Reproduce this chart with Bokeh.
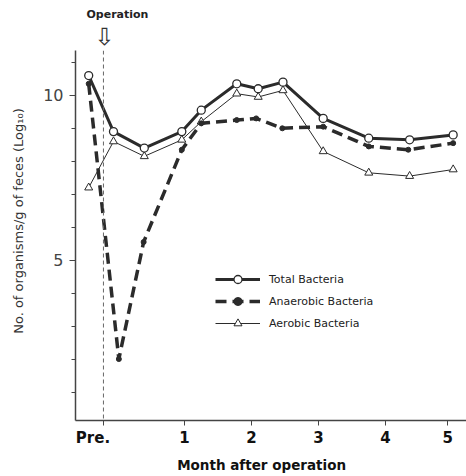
from bokeh.plotting import figure
from bokeh.models import Range1d, FixedTicker, Span, Title, Legend, LegendItem
from bokeh.embed import file_html
from bokeh.resources import INLINE

# ---- data ----
x_total = [-0.43, -0.06, 0.40, 0.96, 1.25, 1.78, 2.10, 2.47, 3.07, 3.75, 4.36, 5.01]
total_bacteria = [10.6, 8.9, 8.4, 8.9, 9.55, 10.35, 10.2, 10.4, 9.3, 8.7, 8.65, 8.8]
aerobic_bacteria = [7.2, 8.6, 8.15, 8.65, 9.2, 10.05, 9.95, 10.15, 8.3, 7.65, 7.55, 7.75]
x_anaerobic = [-0.43, 0.02, 0.39, 0.96, 1.25, 1.78, 2.07, 2.46, 3.07, 3.75, 4.34, 5.01]
anaerobic_bacteria = [10.35, 2.0, 5.55, 8.35, 9.15, 9.25, 9.3, 9.0, 9.05, 8.45, 8.35, 8.55]

operation_x = -0.21
x_tick_values = [operation_x, 1, 2, 3, 4, 4.93]
x_tick_labels = ["Pre.\u00a0\u00a0\u00a0\u00a0", "1", "2", "3", "4", "5"]
y_tick_values = [5, 10]
y_minor_ticks = [1, 2, 3, 4, 5, 6, 7, 8, 9, 10, 11]

INK = "#2b2b2b"
FONT = "DejaVu Sans"

p = figure(width=466, height=476, output_backend="svg", toolbar_location=None,
           x_range=Range1d(-0.627, 5.209), y_range=Range1d(0.136, 11.36),
           min_border_left=75, min_border_right=0, min_border_top=50, min_border_bottom=56)
p.outline_line_color = None
p.xgrid.visible = False
p.ygrid.visible = False
p.background_fill_color = "white"

# "Operation" text on top, arrow between it and the frame
p.title.text = "Operation"
p.title.text_font = FONT
p.title.text_font_size = "11px"
p.title.text_font_style = "bold"
p.title.text_color = "#222222"
p.title.align = "left"
p.title.offset = 11
p.title.standoff = 0
p.add_layout(Title(text="\u21e9", text_font=FONT, text_font_style="normal",
                   text_font_size="24px", text_color="#333333", align="left",
                   offset=19, standoff=0), "above")

# axes
p.xaxis.ticker = FixedTicker(ticks=x_tick_values)
p.xaxis.major_label_overrides = {v: l for v, l in zip(x_tick_values, x_tick_labels)}
p.yaxis.ticker = FixedTicker(ticks=y_tick_values, minor_ticks=y_minor_ticks)
for ax in (p.xaxis[0], p.yaxis[0]):
    ax.axis_line_color = "#444444"
    ax.axis_line_width = 1.5
    ax.major_tick_line_color = "#444444"
    ax.minor_tick_line_color = "#444444"
    ax.major_tick_in = 0
    ax.minor_tick_in = 0
p.xaxis.major_tick_out = 5
p.xaxis.minor_tick_out = 0
p.yaxis.major_tick_out = 6
p.yaxis.minor_tick_out = 4

p.xaxis.major_label_text_font = FONT
p.xaxis.major_label_text_font_style = "bold"
p.xaxis.major_label_text_font_size = "15px"
p.xaxis.major_label_text_color = "#111111"
p.xaxis.major_label_standoff = 3
p.xaxis.axis_label = "Month after operation\u00a0\u00a0\u00a0\u00a0"
p.xaxis.axis_label_text_font = FONT
p.xaxis.axis_label_text_font_style = "bold"
p.xaxis.axis_label_text_font_size = "13.5px"
p.xaxis.axis_label_text_color = "#111111"
p.xaxis.axis_label_standoff = 7

p.yaxis.major_label_text_font = FONT
p.yaxis.major_label_text_font_size = "16px"
p.yaxis.major_label_text_color = "#444444"
p.yaxis.major_label_standoff = 6
p.yaxis.axis_label = "\u00a0" * 7 + "No. of organisms/g of feces (Log\u2081\u2080)"
p.yaxis.axis_label_text_font = FONT
p.yaxis.axis_label_text_font_style = "normal"
p.yaxis.axis_label_text_font_size = "13px"
p.yaxis.axis_label_text_color = "#333333"
p.yaxis.axis_label_standoff = 14

# operation line
p.add_layout(Span(location=operation_x, dimension="height", line_color="#666666",
                  line_width=1, line_dash="4 3"))

# series
la = p.line(x_total, aerobic_bacteria, line_color=INK, line_width=1)
sa = p.scatter(x_total, aerobic_bacteria, marker="triangle", size=8,
               fill_color="white", line_color=INK, line_width=1)
ln = p.line(x_anaerobic, anaerobic_bacteria, line_color=INK, line_width=3.5, line_dash="11 6")
sn = p.scatter(x_anaerobic, anaerobic_bacteria, marker="circle", size=5,
               fill_color=INK, line_color=INK)
lt = p.line(x_total, total_bacteria, line_color=INK, line_width=3)
st = p.scatter(x_total, total_bacteria, marker="circle", size=8,
               fill_color="white", line_color=INK, line_width=1.3)

legend = Legend(items=[
    LegendItem(label="Total Bacteria", renderers=[lt, st]),
    LegendItem(label="Anaerobic Bacteria", renderers=[ln, sn]),
    LegendItem(label="Aerobic Bacteria", renderers=[la, sa]),
], location=(140, 87), orientation="vertical", glyph_width=45, glyph_height=20,
    label_height=20, spacing=2, padding=0, margin=0, border_line_color=None,
    background_fill_alpha=0, label_text_font=FONT, label_text_font_size="11px",
    label_text_color="#222222", label_standoff=9)
p.add_layout(legend)

open("out.html", "w").write(file_html(p, INLINE))
